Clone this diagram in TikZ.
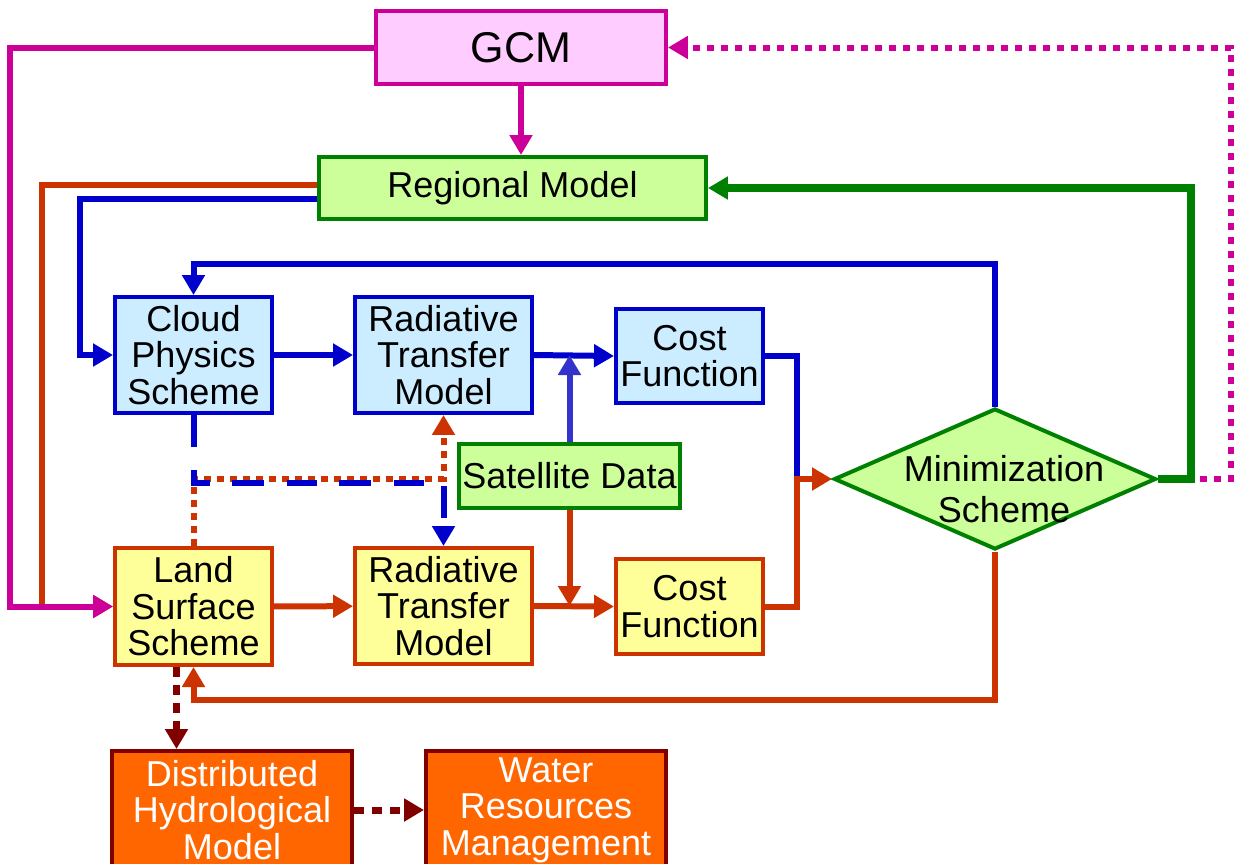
\documentclass[tikz,border=0pt]{standalone}
\usepackage{fontspec}
\setmainfont{Liberation Sans}
\usepackage{tikz}
\usetikzlibrary{shapes.geometric,arrows.meta}
\usetikzlibrary{calc,backgrounds}
\definecolor{gcmline}{HTML}{CC0099}
\definecolor{gcmfill}{HTML}{FFCCFF}
\definecolor{regline}{HTML}{008000}
\definecolor{regfill}{HTML}{CCFF99}
\definecolor{cloudline}{HTML}{0000CC}
\definecolor{cloudfill}{HTML}{CCECFF}
\definecolor{satblue}{HTML}{3333CC}
\definecolor{landline}{HTML}{CC3300}
\definecolor{landfill}{HTML}{FFFF99}
\definecolor{hydroline}{HTML}{800000}
\definecolor{hydrofill}{HTML}{FF6600}
\newcommand{\boxfont}{\fontsize{20.5}{20.8}\selectfont}
\tikzstyle{flow}=[
  x=0.02cm,y=-0.02cm,>={Triangle[length=0.4cm,width=0.44cm]},font=\boxfont
]
\tikzstyle{box}=[
  draw,rectangle,line width=0.08cm,inner sep=0pt,align=center
]
\tikzstyle{gcmbox}=[
  box,draw=gcmline,fill=gcmfill,font=\fontsize{24.5}{25}\selectfont
]
\tikzstyle{greenbox}=[
  box,draw=regline,fill=regfill
]
\tikzstyle{bluebox}=[
  box,draw=cloudline,fill=cloudfill
]
\tikzstyle{yellowbox}=[
  box,draw=landline,fill=landfill
]
\tikzstyle{hydrobox}=[
  box,draw=hydroline,fill=hydrofill,text=white
]
\tikzstyle{minidiamond}=[
  draw=regline,fill=regfill,diamond,line width=0.08cm,inner sep=0pt,
  minimum width=6.44cm,minimum height=2.82cm
]
\tikzstyle{blueedge}=[
  line width=0.12cm,cloudline
]
\tikzstyle{orangeedge}=[
  line width=0.12cm,landline
]
\tikzstyle{gcmedge}=[
  line width=0.12cm,gcmline
]
\tikzstyle{greenedge}=[
  line width=0.15cm,regline
]
\tikzstyle{hydroedge}=[
  line width=0.14cm,hydroline,dash pattern=on 0.2cm off 0.16cm
]

\begin{document}
\begin{tikzpicture}[flow]
    \path[use as bounding box,clip] (0,0) rectangle (1239,863);
    % models
    \node (gcm) at (521,47.5) [gcmbox,minimum width=5.8cm,minimum height=1.46cm] {GCM};
    \node (regional) at (512.5,188) [greenbox,minimum width=7.74cm,minimum height=1.24cm] {Regional Model};
    % upper row
    \node (cloud) at (193.5,355) [bluebox,minimum width=3.14cm,minimum height=2.32cm] {Cloud\\Physics\\Scheme};
    \node (rtblue) at (443.5,355) [bluebox,minimum width=3.54cm,minimum height=2.32cm] {Radiative\\Transfer\\Model};
    \node (cfblue) at (689.5,356) [bluebox,minimum width=2.94cm,minimum height=1.88cm] {Cost\\Function};
    \node (sat) at (569.5,476) [greenbox,minimum width=4.42cm,minimum height=1.28cm] {Satellite Data};
    \node (mini) at (995,479) [minidiamond,
      label={[xshift=0.18cm,yshift=-0.21cm,align=center,font=\fontsize{20.5}{23.3}\selectfont]center:Minimization\\Scheme}] {};
    % lower row
    \node (land) at (193.5,606.5) [yellowbox,minimum width=3.14cm,minimum height=2.34cm] {Land\\Surface\\Scheme};
    \node (rtyellow) at (443.5,606) [yellowbox,minimum width=3.54cm,minimum height=2.32cm] {Radiative\\Transfer\\Model};
    \node (cfyellow) at (689.5,606.5) [yellowbox,minimum width=2.94cm,minimum height=1.9cm] {Cost\\Function};
    % applications
    \node (dist) at (232,810) [hydrobox,minimum width=4.8cm,minimum height=2.36cm] {Distributed\\Hydrological\\Model};
    \node (water) at (546,810) [hydrobox,minimum width=4.8cm,minimum height=2.36cm] {Water\\Resources\\Management};
    \coordinate (junc) at ($(mini.west)+(-35,0)$);
    \coordinate (hydtop) at ($(land.south)+(-17,0)$);
    \begin{scope}[on background layer]
      \draw [gcmedge,->] (gcm.south) -- (gcm.south |- regional.north);
      \draw [orangeedge,->] ($(regional.west)+(0,-3)$) -- ++(-275,0) |- (land.west);
      \draw [gcmedge,->] (gcm.west) -- ++(-364,0) |- (land.west);
      \draw [blueedge,->] ($(regional.west)+(0,11)$) -- ++(-237,0) |- (cloud.west);
      \draw [blueedge,->] (cloud) -- (rtblue);
      \draw [blueedge,->] (rtblue.east) -- (cfblue.west);
      \draw [line width=0.12cm,satblue,->] (sat.north) -- (sat.north |- rtblue.east);
      \draw [blueedge] (cfblue.east) -| (junc);
      \draw [orangeedge,->] (cfyellow.east) -| (junc) -- (mini.west);
      \draw [blueedge,->] (mini.north) -- ++(0,-143) -| (cloud.north);
      \draw [gcmedge,dash pattern=on 0.14cm off 0.14cm,->] (mini.east) -- ++(73,0) |- (gcm.east);
      \draw [greenedge,->] (mini.east) -- ++(33,0) |- (regional.east);
      \draw [orangeedge,->] (mini.south) -- ++(0,148) -| (land.south);
      \draw [orangeedge,->] (land) -- (rtyellow);
      \draw [orangeedge,->] (rtyellow.east) -- (cfyellow.west);
      \draw [orangeedge,->] (sat.south) -- (sat.south |- rtyellow.east);
      % coupling of the two schemes
      \draw [orangeedge,dash pattern=on 0.14cm off 0.12cm,->] (land.north) -- ++(0,-67) -| (rtblue.south);
      \draw [blueedge,dash pattern=on 0.64cm off 0.46cm on 0.6cm off 0.44cm,->] (cloud.south) -- ++(0,68) -| (rtyellow.north);
      \draw [hydroedge,->] (hydtop) -- (hydtop |- dist.north);
      \draw [hydroedge,->] (dist.east) -- (water.west);
    \end{scope}
\end{tikzpicture}
\end{document}
